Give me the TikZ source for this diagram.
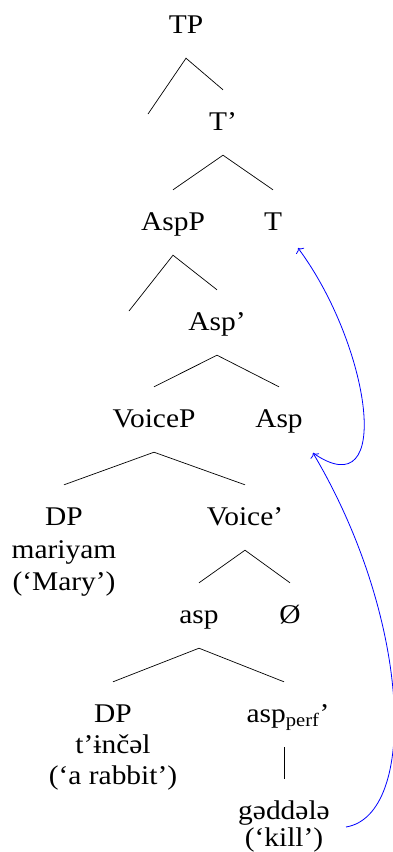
\documentclass[tikz,border=0pt]{standalone}
\usepackage{fontspec}
\setmainfont[FakeStretch=1.09]{Liberation Serif}
\usetikzlibrary{arrows.meta}
\begin{document}
\begin{tikzpicture}[x=1pt,y=-1pt,
  lab/.style={font=\fontsize{27}{32}\selectfont, anchor=base, text height=18pt, text depth=3pt, inner xsep=0pt, inner ysep=22pt},
  txt/.style={font=\fontsize{27}{32}\selectfont, anchor=base, inner sep=0pt},
  br/.style={line width=0.7pt},
  mv/.style={blue, line width=0.8pt, -{To[length=4pt,width=10pt]}}]
\useasboundingbox (0,0) rectangle (392,852);
\node[lab] (TP) at (186,33) {TP};
\node[lab] (Tb) at (223,130) {T’};
\node[lab] (AspP) at (173,230) {AspP};
\node[lab] (T) at (273,230) {T};
\node[lab] (Aspb) at (217,330) {Asp’};
\node[lab] (VoiceP) at (154,427) {VoiceP};
\node[lab] (Asp) at (279,427) {Asp};
\node[lab] (DP1) at (64,525) {DP};
\node[txt] (mar) at (64,558) {mariyam};
\node[txt] (mary) at (64,590) {(‘Mary’)};
\node[lab] (Voiceb) at (245,525) {Voice’};
\node[lab] (asp) at (199,623) {asp};
\node[lab] (null) at (290,623) {Ø};
\node[lab] (DP2) at (113,722) {DP};
\node[txt] (tin) at (113,753) {t’ɨnčəl};
\node[txt] (rab) at (113,784) {(‘a rabbit’)};
\node[lab] (perf) at (288,722) {asp\textsubscript{perf}’};
\node[lab] (gdd) at (284,819) {gəddələ};
\node[txt] (kill) at (284,846) {(‘kill’)};
\coordinate (e1) at (148,114);
\coordinate (e2) at (129,311);
\draw[br] (e1) -- (TP.south) -- (Tb.north);
\draw[br] (AspP.north) -- (Tb.south) -- (T.north);
\draw[br] (e2) -- (AspP.south) -- (Aspb.north);
\draw[br] (VoiceP.north) -- (Aspb.south) -- (Asp.north);
\draw[br] (DP1.north) -- (VoiceP.south) -- (Voiceb.north);
\draw[br] (asp.north) -- (Voiceb.south) -- (null.north);
\draw[br] (DP2.north) -- (asp.south) -- (gdd.north |- perf.north);
\draw[br] (gdd.north |- perf.south) -- (gdd.north);
\coordinate (s1) at (346,827);
\coordinate (m) at (313,453);
\coordinate (t1) at (298,248);
\draw[mv] (s1) .. controls (418,815) and (412,620) .. (m);
\draw[mv] (m) .. controls (395,510) and (370,345) .. (t1);
\end{tikzpicture}
\end{document}
